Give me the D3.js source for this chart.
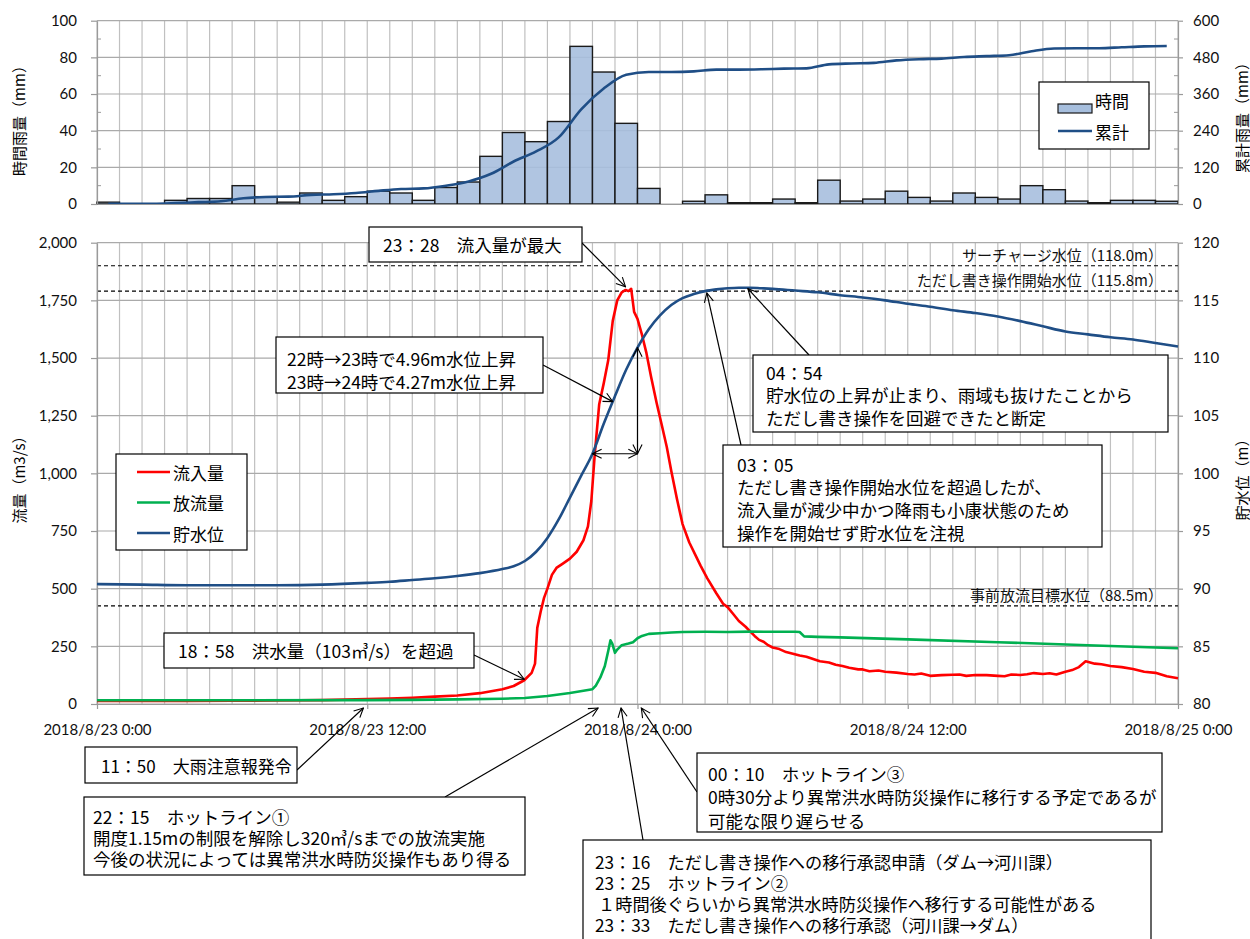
<!DOCTYPE html>
<html><head><meta charset="utf-8">
<script src="https://cdn.jsdelivr.net/npm/d3@7"></script>
<style>body{margin:0;background:#fff} svg{display:block}</style>
</head><body>
<svg id="c" width="1250" height="939"></svg>
<script>
// ---------------- DATA ----------------
// hourly rainfall (mm), one bar per hour from 2018/8/23 0:00
const rainHourly = [1,0,0,2,3,3,10,4,1,6,2,4,7,6,2,9,12,26,39,34,45,86,72,44,
                    8.5,0,1.5,5,0.7,0.7,2.7,0.7,13,1.6,2.7,7,3.6,1.6,6,3.6,2.7,10,7.8,1.6,0.7,2,2,1.5];
// cumulative rainfall (mm) at each hour centre
const rainCumulative = [1,1,1,3,6,9,19,23,24,30,32,36,43,49,51,60,74,99,139,172,218,310,378,423,
                        432,432,434,440,440,441,443,444,457,460,462,470,474,476,481,484,487,500,509,510,510,513,516,517];

// inflow (m3/s)
const inflowHours = [0,2,4,6,8,10,11,12,13,14,15,16,17,17.5,18,18.5,18.97,19.3,19.45,19.55,19.7,19.85,20,20.2,20.4,20.7,21,21.3,21.6,21.8,21.95,22.1,22.3,22.5,22.7,22.9,23.1,23.3,23.47,23.6,23.72,23.85,24,24.2,24.4,24.6,24.85,25.1,25.3,25.5,25.75,26,26.3,26.6,26.8,27.1,27.5,27.8,28,28.25,28.5,28.8,29,29.2,29.4,29.6,29.8,30,30.3,30.6,30.9,31.2,31.5,31.8,32.1,32.5,32.8,33.1,33.4,33.8,34,34.3,34.7,35,35.5,36,36.3,36.6,37,37.5,38,38.3,38.6,39,39.5,40,40.3,40.6,41,41.3,41.6,42,42.3,42.6,43,43.3,43.6,43.9,44.3,44.6,45,45.5,46,46.5,47,47.5,48];
const inflowValues = [13,13,13,14,15,17,19,22,24,27,32,37,47,55,64,78,103,135,175,330,400,460,500,560,590,610,630,660,710,770,880,1080,1300,1390,1490,1660,1750,1785,1795,1790,1800,1700,1670,1600,1520,1420,1305,1200,1114,1010,890,780,700,640,600,545,480,435,420,390,360,335,315,295,278,270,255,245,238,225,218,210,205,195,185,180,170,165,157,150,150,142,145,140,136,130,128,132,122,125,127,128,122,126,125,122,120,128,126,129,134,130,133,128,140,147,160,185,175,172,165,160,152,140,135,120,112];

// outflow (m3/s)
const outflowHours = [0,6,12,14,16,18,19,20,21,22,22.15,22.35,22.55,22.7,22.8,22.88,23,23.1,23.3,23.6,23.8,24,24.2,24.5,25,25.5,26,27,28,29,30,31,31.2,31.4,32,33,36,40,44,48];
const outflowValues = [16,16,17,18,20,23,26,35,48,64,80,115,165,230,276,262,222,236,255,262,268,285,295,304,307,310,312,313,312,314,313,313,312,293,291,289,280,268,255,242];

// reservoir level (m)
const levelHours = [0,2,4,6,8,10,12,13,14,15,16,17,18,18.5,19,19.5,20,20.5,21,21.5,22,22.5,23,23.5,24,24.5,25,25.5,26,26.5,27,27.5,28,28.5,29,29.5,30,31,32,33,34,35,36,37,38,39,40,41,42,43,44,45,46,47,48];
const levelValues = [90.4,90.35,90.3,90.3,90.3,90.35,90.5,90.6,90.75,90.9,91.1,91.35,91.7,91.95,92.4,93.2,94.4,96.0,97.9,99.8,101.7,104.3,106.7,109.0,110.9,112.5,113.7,114.6,115.2,115.55,115.8,115.95,116.05,116.1,116.1,116.05,116.0,115.85,115.7,115.45,115.25,115.0,114.7,114.45,114.15,113.9,113.6,113.2,112.75,112.3,112.05,111.8,111.6,111.3,111.0];

// reference water levels
const refLevels = [118.0, 115.8, 88.5];
const refLabels = ["サーチャージ水位（118.0m）","ただし書き操作開始水位（115.8m）","事前放流目標水位（88.5m）"];

// ticks
const xTickHours = [0,12,24,36,48];
const xTickLabels = ["2018/8/23 0:00","2018/8/23 12:00","2018/8/24 0:00","2018/8/24 12:00","2018/8/25 0:00"];
const rainTicks = [0,20,40,60,80,100];
const cumTicks = [0,120,240,360,480,600];
const flowTicks = [0,250,500,750,1000,1250,1500,1750,2000];
const levelTicks = [80,85,90,95,100,105,110,115,120];

// legends / titles
const topLegend = ["時間","累計"];
const bottomLegend = ["流入量","放流量","貯水位"];
const axisTitles = {rain:"時間雨量（mm）", cum:"累計雨量（mm）", flow:"流量（m3/s）", level:"貯水位（m）"};

// annotations
const annPeak = ["23：28　流入量が最大"];
const annRise = ["22時→23時で4.96m水位上昇","23時→24時で4.27m水位上昇"];
const ann0454 = ["04：54","貯水位の上昇が止まり、雨域も抜けたことから","ただし書き操作を回避できたと断定"];
const ann0305 = ["03：05","ただし書き操作開始水位を超過したが、","流入量が減少中かつ降雨も小康状態のため","操作を開始せず貯水位を注視"];
const ann1858 = ["18：58　洪水量（103㎥/s）を超過"];
const ann1150 = ["11：50　大雨注意報発令"];
const ann2215 = ["22：15　ホットライン①","開度1.15mの制限を解除し320㎥/sまでの放流実施","今後の状況によっては異常洪水時防災操作もあり得る"];
const ann0010 = ["00：10　ホットライン③","0時30分より異常洪水時防災操作に移行する予定であるが","可能な限り遅らせる"];
const ann2316 = ["23：16　ただし書き操作への移行承認申請（ダム→河川課）","23：25　ホットライン②","１時間後ぐらいから異常洪水時防災操作へ移行する可能性がある","23：33　ただし書き操作への移行承認（河川課→ダム）"];

// ---------------- LAYOUT ----------------
const X0 = 97, X1 = 1178;
const svg = d3.select("#c");
const tickFont = "Lato, 'Open Sans', sans-serif";
const jpFont = "'Noto Sans CJK JP', sans-serif";
const gridCol = "#aaaaaa";
const blue = "#1f4e86", red = "#ff0000", green = "#00b050";

const x = d3.scaleLinear().domain([0,48]).range([X0,X1]);
const yRain = d3.scaleLinear().domain([0,100]).range([204,20.7]);
const yCum = d3.scaleLinear().domain([0,600]).range([204,20.7]);
const yFlow = d3.scaleLinear().domain([0,2000]).range([704,242.7]);
const yLev = d3.scaleLinear().domain([80,120]).range([704,242.7]);

const defs = svg.append("defs");
defs.append("marker").attr("id","ah").attr("viewBox","0 0 12 12").attr("refX",11).attr("refY",6)
  .attr("markerWidth",11).attr("markerHeight",11).attr("markerUnits","userSpaceOnUse")
  .attr("orient","auto-start-reverse")
  .append("path").attr("d","M1,1 L11,6 L1,11").attr("fill","none").attr("stroke","#000").attr("stroke-width",1.2);

function grid(yScale, ticks, top, bottom){
  const g = svg.append("g");
  g.selectAll(".v").data(d3.range(0,49)).join("line")
    .attr("x1",d=>x(d)).attr("x2",d=>x(d)).attr("y1",top).attr("y2",bottom)
    .attr("stroke","#c0c0c0").attr("stroke-width",1.2);
  g.selectAll(".h").data(ticks).join("line")
    .attr("x1",X0).attr("x2",X1).attr("y1",d=>yScale(d)).attr("y2",d=>yScale(d))
    .attr("stroke",gridCol).attr("stroke-width",1.2);
}
function styleAxis(g){
  g.select(".domain").attr("stroke","#9a9a9a").attr("stroke-width",1.2);
  g.selectAll(".tick line").attr("stroke","#9a9a9a").attr("stroke-width",1.2);
  g.selectAll(".tick text").attr("font-family",tickFont).attr("font-size",15).attr("fill","#111");
}

// ---------- TOP CHART ----------
grid(yRain, rainTicks, yRain(100), yRain(0));
svg.append("g").selectAll("rect").data(rainHourly).join("rect")
  .attr("x",(d,i)=>x(i)).attr("width",x(1)-x(0))
  .attr("y",d=>yRain(d)).attr("height",d=>yRain(0)-yRain(d))
  .attr("fill","#a7bfde").attr("fill-opacity",0.9)
  .attr("stroke","#1a1a1a").attr("stroke-width",1.4)
  .style("display",d=>d>0?null:"none");
svg.append("path").datum(rainCumulative)
  .attr("d",d3.line().x((d,i)=>x(i+0.5)).y(d=>yCum(d)).curve(d3.curveMonotoneX))
  .attr("fill","none").attr("stroke",blue).attr("stroke-width",2.6);

let g = svg.append("g").attr("transform",`translate(${X0},0)`)
  .call(d3.axisLeft(yRain).tickValues(rainTicks).tickSize(6).tickPadding(14).tickSizeOuter(0));
styleAxis(g);
g = svg.append("g").attr("transform",`translate(${X1},0)`)
  .call(d3.axisRight(yCum).tickValues(cumTicks).tickSize(5).tickPadding(10).tickSizeOuter(0));
styleAxis(g);
g = svg.append("g").attr("transform",`translate(0,${yRain(0)})`)
  .call(d3.axisBottom(x).tickValues([]).tickSizeOuter(0));
styleAxis(g);
// minor ticks
svg.append("g").selectAll("line").data([10,30,50,70,90]).join("line")
  .attr("x1",X0).attr("x2",X0+4).attr("y1",d=>yRain(d)).attr("y2",d=>yRain(d)).attr("stroke","#9a9a9a");
svg.append("g").selectAll("line").data([60,180,300,420,540]).join("line")
  .attr("x1",X1-4).attr("x2",X1).attr("y1",d=>yCum(d)).attr("y2",d=>yCum(d)).attr("stroke","#9a9a9a");

// top legend
svg.append("rect").attr("x",1039).attr("y",82).attr("width",110).attr("height",67)
  .attr("fill","#fff").attr("stroke","#000").attr("stroke-width",1.2);
svg.append("rect").attr("x",1058).attr("y",104).attr("width",34).attr("height",9)
  .attr("fill","#a7bfde").attr("stroke","#1a1a1a").attr("stroke-width",1.2);
svg.append("line").attr("x1",1058).attr("x2",1092).attr("y1",131).attr("y2",131)
  .attr("stroke",blue).attr("stroke-width",2.6);
svg.append("g").selectAll("text").data(topLegend).join("text")
  .attr("x",1095).attr("y",(d,i)=>[100,131][i]).attr("dominant-baseline","central")
  .attr("font-family",jpFont).attr("font-size",17).text(d=>d);

// ---------- BOTTOM CHART ----------
grid(yFlow, flowTicks, yFlow(2000), yFlow(0));

// reference dashed lines
svg.append("g").selectAll("line").data(refLevels).join("line")
  .attr("x1",X0).attr("x2",X1).attr("y1",d=>yLev(d)).attr("y2",d=>yLev(d))
  .attr("stroke","#000").attr("stroke-width",1.2).attr("stroke-dasharray","4,3");
svg.append("g").selectAll("text").data(refLevels).join("text")
  .attr("x",1163).attr("y",d=>yLev(d)-5).attr("text-anchor","end")
  .attr("font-family",jpFont).attr("font-size",15).attr("fill","#111")
  .text((d,i)=>refLabels[i]);

g = svg.append("g").attr("transform",`translate(${X0},0)`)
  .call(d3.axisLeft(yFlow).tickValues(flowTicks).tickFormat(d3.format(",")).tickSize(6).tickPadding(14).tickSizeOuter(0));
styleAxis(g);
g = svg.append("g").attr("transform",`translate(${X1},0)`)
  .call(d3.axisRight(yLev).tickValues(levelTicks).tickSize(5).tickPadding(10).tickSizeOuter(0));
styleAxis(g);
g = svg.append("g").attr("transform",`translate(0,${yFlow(0)})`)
  .call(d3.axisBottom(x).tickValues(xTickHours).tickFormat((d,i)=>xTickLabels[i]).tickSize(5).tickSizeOuter(0));
styleAxis(g);
g.selectAll(".tick text").attr("y",26).attr("dy","0.35em");

// series
const lineH = (hours)=>d3.line().x((d,i)=>x(hours[i])).y(d=>d);
svg.append("path").datum(inflowValues.map(v=>yFlow(v)))
  .attr("d",lineH(inflowHours)).attr("fill","none").attr("stroke",red).attr("stroke-width",2.6).attr("stroke-linejoin","round");
svg.append("path").datum(outflowValues.map(v=>yFlow(v)))
  .attr("d",lineH(outflowHours)).attr("fill","none").attr("stroke",green).attr("stroke-width",2.6).attr("stroke-linejoin","round");
svg.append("path").datum(levelValues.map(v=>yLev(v)))
  .attr("d",lineH(levelHours).curve(d3.curveMonotoneX)).attr("fill","none").attr("stroke",blue).attr("stroke-width",2.6);

// bottom legend
svg.append("rect").attr("x",116).attr("y",454).attr("width",131).attr("height",96)
  .attr("fill","#fff").attr("stroke","#000").attr("stroke-width",1.2);
const legCols = [red,green,blue];
svg.append("g").selectAll("line").data(bottomLegend).join("line")
  .attr("x1",137).attr("x2",170).attr("y1",(d,i)=>472+i*30.5).attr("y2",(d,i)=>472+i*30.5)
  .attr("stroke",(d,i)=>legCols[i]).attr("stroke-width",2.6);
svg.append("g").selectAll("text").data(bottomLegend).join("text")
  .attr("x",173).attr("y",(d,i)=>472+i*30.5).attr("dominant-baseline","central")
  .attr("font-family",jpFont).attr("font-size",17).text(d=>d);

// axis titles
function vtitle(t, cx, cy){
  svg.append("text").attr("transform",`translate(${cx},${cy}) rotate(-90)`)
    .attr("text-anchor","middle").attr("dominant-baseline","central")
    .attr("font-family",jpFont).attr("font-size",15).text(t);
}
vtitle(axisTitles.rain, 18, 117);
vtitle(axisTitles.cum, 1241, 114);
vtitle(axisTitles.flow, 18, 476);
vtitle(axisTitles.level, 1241, 476);

// ---------- ANNOTATIONS ----------
const annG = svg.append("g");
function arrow(x1,y1,x2,y2,both){
  const l = annG.append("line").attr("x1",x1).attr("y1",y1).attr("x2",x2).attr("y2",y2)
    .attr("stroke","#000").attr("stroke-width",1.2).attr("marker-end","url(#ah)");
  if(both) l.attr("marker-start","url(#ah)");
}
function box(bx,by,bw,bh,tx,ty0,dy,lines,fs,indent){
  annG.append("rect").attr("x",bx).attr("y",by).attr("width",bw).attr("height",bh)
    .attr("fill","#fff").attr("stroke","#000").attr("stroke-width",1.2);
  annG.append("g").selectAll("text").data(lines).join("text")
    .attr("x",(d,i)=>tx+((indent&&indent[i])||0)).attr("y",(d,i)=>ty0+i*dy)
    .attr("dominant-baseline","central")
    .attr("font-family",jpFont).attr("font-size",fs||17.5).attr("fill","#000").text(d=>d);
}
const interp = (hs,vs,h)=>d3.scaleLinear().domain(hs).range(vs)(h);
const axisY = yFlow(0)+4;

// peak inflow
arrow(582,243, x(23.47), yFlow(d3.max(inflowValues))-2);
box(369,227,213,35,383,244.5,0,annPeak);
// level rise
arrow(543,365, x(22.9), yLev(interp(levelHours,levelValues,22.9)));
box(276,337,267,56,287,358,23,annRise);
const l22 = yLev(interp(levelHours,levelValues,22)), l24 = yLev(interp(levelHours,levelValues,24));
arrow(x(24), l22, x(24), l24, true);
arrow(x(22), l22, x(24), l22, true);
// 04:54
arrow(809,355, x(28.9), yLev(interp(levelHours,levelValues,28.9))+1);
box(753,355,415,77,766,372,22.5,ann0454);
// 03:05
arrow(741,445, x(27.08), yLev(interp(levelHours,levelValues,27.08))+2);
box(723,445,379,102,737,464,22.7,ann0305);
// 18:58
arrow(474,655, x(18.97), yFlow(103)-1);
box(164,633,310,35,178,650.5,0,ann1858);
// 11:50
arrow(297,770, x(11.83), axisY);
box(85,747,212,36,101,765,0,ann1150,17);
// 22:15
arrow(445,797, x(22.25), axisY);
box(84,797,441,78,93,816,21,ann2215);
// 00:10
arrow(697,792, x(24.17), axisY);
box(697,753,465,79,708,773,23.5,ann0010);
// 23:16
arrow(643,840, x(23.27), axisY);
box(583,840,568,110,595,861,21,ann2316,17.2,[0,0,3,0]);
</script>
</body></html>
